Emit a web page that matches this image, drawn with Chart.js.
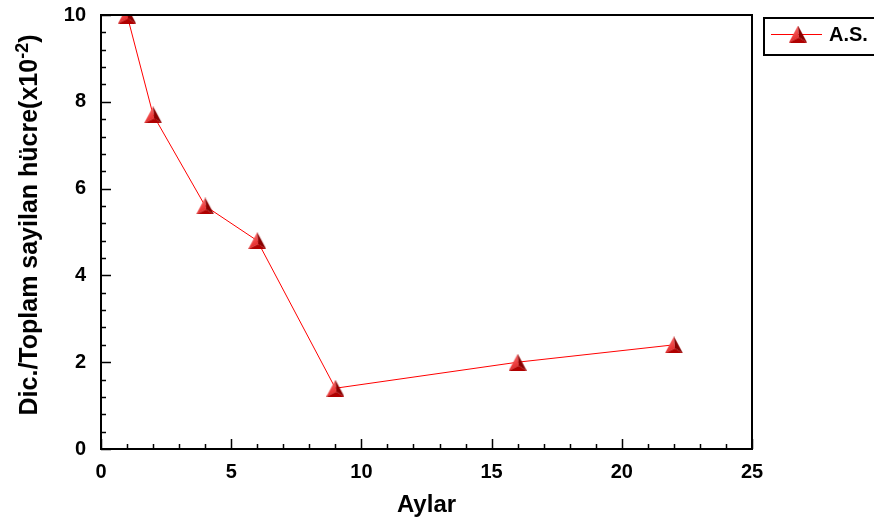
<!DOCTYPE html>
<html>
<head>
<meta charset="utf-8">
<script src="https://cdn.jsdelivr.net/npm/chart.js@4.4.1/dist/chart.umd.min.js"></script>
<style>
  html, body { margin: 0; padding: 0; background: #fff; }
  #wrap { width: 874px; height: 523px; }
</style>
</head>
<body>
<div id="wrap"><canvas id="ratio-chart" width="874" height="523"></canvas></div>
<script>
// values
const months = [1, 2, 4, 6, 9, 16, 22];
const ratio = [10, 7.7, 5.6, 4.8, 1.4, 2.0, 2.4];
const seriesLabel = "A.S.";
const xMajorTicks = [0, 5, 10, 15, 20, 25];
const yMajorTicks = [0, 2, 4, 6, 8, 10];
const xMinorTicks = [1, 2, 3, 4, 6, 7, 8, 9, 11, 12, 13, 14, 16, 17, 18, 19, 21, 22, 23, 24];
const yMinorTicks = [0.4, 0.8, 1.2, 1.6, 2.4, 2.8, 3.2, 3.6, 4.4, 4.8, 5.2, 5.6, 6.4, 6.8, 7.2, 7.6, 8.4, 8.8, 9.2, 9.6];
const xTitle = "Aylar";
const yTitleMain = "Dic./Toplam sayilan hücre(x10";
const yTitleSup = "-2";
const yTitleEnd = ")";

const FONT = "'Liberation Sans', Arial, sans-serif";

// shaded triangle marker, like the 3D look of the original
function makeTriangle() {
  const c = document.createElement("canvas");
  const w = 18, h = 17;
  c.width = w;
  c.height = h;
  const g = c.getContext("2d");
  const apex = [w / 2, 0], bl = [0, h], br = [w, h], inner = [w / 2 + 1, h - 5];
  const face = (pts, color) => {
    g.beginPath();
    g.moveTo(pts[0][0], pts[0][1]);
    pts.slice(1).forEach((p) => g.lineTo(p[0], p[1]));
    g.closePath();
    g.fillStyle = color;
    g.fill();
  };
  const lg = g.createLinearGradient(0, 0, w / 2, h);
  lg.addColorStop(0, "#ff8080");
  lg.addColorStop(1, "#e01818");
  face([apex, bl, inner], lg);
  face([apex, inner, br], "#8a0000");
  face([bl, br, inner], "#b00000");
  return c;
}
const marker = makeTriangle();

const framePlugin = {
  id: "frame",
  afterDraw(chart) {
    const { ctx, chartArea: a, scales } = chart;
    const xs = scales.x, ys = scales.y;
    ctx.save();
    ctx.strokeStyle = "#000";

    // top and right frame
    ctx.lineWidth = 2;
    ctx.beginPath();
    ctx.moveTo(a.left, a.top);
    ctx.lineTo(a.right, a.top);
    ctx.lineTo(a.right, a.bottom);
    ctx.stroke();

    // inward ticks
    ctx.lineWidth = 1.5;
    ctx.beginPath();
    xMajorTicks.forEach((v) => {
      const px = Math.round(xs.getPixelForValue(v)) + 0.5;
      ctx.moveTo(px, a.bottom);
      ctx.lineTo(px, a.bottom - 10);
    });
    xMinorTicks.forEach((v) => {
      const px = Math.round(xs.getPixelForValue(v)) + 0.5;
      ctx.moveTo(px, a.bottom);
      ctx.lineTo(px, a.bottom - 5);
    });
    yMajorTicks.forEach((v) => {
      const py = Math.round(ys.getPixelForValue(v)) + 0.5;
      ctx.moveTo(a.left, py);
      ctx.lineTo(a.left + 10, py);
    });
    yMinorTicks.forEach((v) => {
      const py = Math.round(ys.getPixelForValue(v)) + 0.5;
      ctx.moveTo(a.left, py);
      ctx.lineTo(a.left + 5, py);
    });
    ctx.stroke();

    // x title
    ctx.fillStyle = "#000";
    ctx.font = "bold 24px " + FONT;
    ctx.textAlign = "center";
    ctx.textBaseline = "alphabetic";
    ctx.fillText(xTitle, (a.left + a.right) / 2, 512);

    // y title with superscript
    ctx.translate(37, 225);
    ctx.rotate(-Math.PI / 2);
    ctx.textAlign = "left";
    const big = "bold 25px " + FONT, small = "bold 18px " + FONT;
    ctx.font = big;
    const w1 = ctx.measureText(yTitleMain).width;
    const w3 = ctx.measureText(yTitleEnd).width;
    ctx.font = small;
    const w2 = ctx.measureText(yTitleSup).width;
    const x0 = -(w1 + w2 + w3) / 2;
    ctx.font = big;
    ctx.fillText(yTitleMain, x0, 0);
    ctx.font = small;
    ctx.fillText(yTitleSup, x0 + w1, -9);
    ctx.font = big;
    ctx.fillText(yTitleEnd, x0 + w1 + w2, 0);
    ctx.restore();

    // legend box
    ctx.save();
    ctx.strokeStyle = "#000";
    ctx.lineWidth = 2;
    ctx.strokeRect(764, 18, 140, 37);
    ctx.strokeStyle = "#ff0000";
    ctx.lineWidth = 1;
    ctx.beginPath();
    ctx.moveTo(771, 34.5);
    ctx.lineTo(822, 34.5);
    ctx.stroke();
    ctx.drawImage(marker, 798 - marker.width / 2, 34 - marker.height / 2);
    ctx.fillStyle = "#000";
    ctx.font = "bold 20px " + FONT;
    ctx.textAlign = "left";
    ctx.textBaseline = "middle";
    ctx.fillText(seriesLabel, 829, 35);
    ctx.restore();
  },
};

const tickFont = { family: FONT, size: 20, weight: "bold" };

new Chart(document.getElementById("ratio-chart"), {
  type: "scatter",
  data: {
    datasets: [
      {
        label: seriesLabel,
        data: months.map((m, i) => ({ x: m, y: ratio[i] })),
        showLine: true,
        borderColor: "#ff0000",
        borderWidth: 1,
        pointStyle: marker,
        pointRadius: 9,
        pointHoverRadius: 9,
      },
    ],
  },
  options: {
    responsive: false,
    animation: false,
    layout: { padding: { top: 15, right: 122, bottom: 0, left: 0 } },
    plugins: { legend: { display: false }, tooltip: { enabled: false } },
    scales: {
      x: {
        type: "linear",
        min: 0,
        max: 25,
        afterFit: (scale) => {
          scale.height = 74;
          scale.paddingLeft = 0;
          scale.paddingRight = 0;
        },
        afterBuildTicks: (scale) => { scale.ticks = xMajorTicks.map((v) => ({ value: v })); },
        ticks: { font: tickFont, color: "#000", padding: 11 },
        grid: { display: false, drawTicks: false },
        border: { display: true, color: "#000", width: 2 },
      },
      y: {
        type: "linear",
        min: 0,
        max: 10,
        afterFit: (scale) => {
          scale.width = 101;
          scale.paddingTop = 0;
          scale.paddingBottom = 0;
        },
        afterBuildTicks: (scale) => { scale.ticks = yMajorTicks.map((v) => ({ value: v })); },
        ticks: { font: tickFont, color: "#000", padding: 15 },
        grid: { display: false, drawTicks: false },
        border: { display: true, color: "#000", width: 2 },
      },
    },
  },
  plugins: [framePlugin],
});
</script>
</body>
</html>
